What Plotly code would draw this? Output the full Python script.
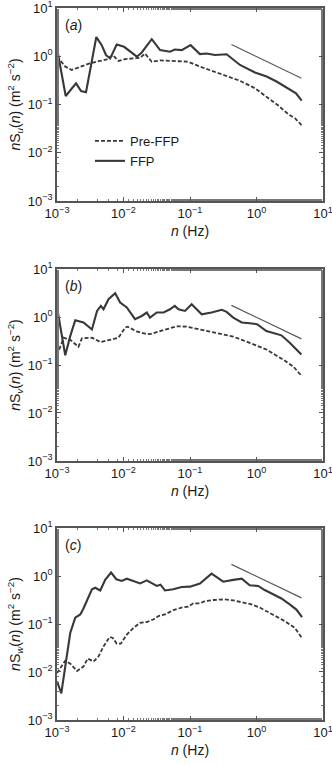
import plotly.graph_objects as go

# ---------------- data ----------------
n_a_ffp = [0.001, 0.00135, 0.00193, 0.0023, 0.00273, 0.0039, 0.0047, 0.00545, 0.0063, 0.0079, 0.0102,
           0.0159, 0.0188, 0.0266, 0.0355, 0.05, 0.059, 0.075, 0.102, 0.141, 0.178, 0.238, 0.355, 0.565,
           0.95, 1.42, 2.0, 2.84, 3.93, 4.78]
S_a_ffp = [1.45, 0.15, 0.275, 0.19, 0.18, 2.5, 1.7, 1.06, 0.9, 1.75, 1.57,
           0.98, 1.2, 2.26, 1.34, 1.24, 1.38, 1.34, 1.7, 1.11, 1.14, 1.06, 1.1, 0.66,
           0.46, 0.38, 0.30, 0.224, 0.17, 0.12]
n_a_pre = [0.001, 0.00133, 0.00166, 0.0022, 0.0031, 0.0044, 0.0056, 0.0069, 0.0084, 0.0105, 0.014,
           0.0178, 0.021, 0.0266, 0.0355, 0.055, 0.094, 0.141, 0.224, 0.355, 0.565, 0.95, 1.42,
           2.13, 3.0, 3.79, 4.78]
S_a_pre = [1.0, 0.61, 0.52, 0.59, 0.71, 0.8, 0.86, 1.06, 0.8, 0.87, 0.9,
           0.93, 1.14, 0.77, 0.82, 0.8, 0.77, 0.61, 0.49, 0.38, 0.31, 0.217, 0.146,
           0.095, 0.063, 0.052, 0.037]

n_b_ffp = [0.001, 0.00133, 0.00158, 0.00188, 0.0025, 0.00335, 0.004, 0.00457, 0.005, 0.00595, 0.0075,
           0.0089, 0.0112, 0.0149, 0.0188, 0.0224, 0.025, 0.0316, 0.04, 0.05, 0.059, 0.067, 0.084,
           0.106, 0.15, 0.211, 0.3, 0.355, 0.447, 0.6, 0.79, 1.02, 1.41, 1.78, 2.37, 3.16, 3.98, 4.73]
S_b_ffp = [1.58, 0.16, 0.40, 0.855, 0.77, 0.55, 1.34, 1.7, 1.45, 2.35, 3.14,
           2.0, 1.58, 0.9, 1.05, 1.24, 0.97, 1.24, 1.24, 1.45, 1.7, 1.45, 1.34,
           1.85, 1.14, 1.24, 1.41, 1.28, 0.97, 0.77, 0.74, 0.71, 0.51, 0.46, 0.415, 0.29, 0.21, 0.166]
n_b_pre = [0.001, 0.00126, 0.0016, 0.0021, 0.00237, 0.00335, 0.0045, 0.0063, 0.0084, 0.0106, 0.0115,
           0.0158, 0.021, 0.025, 0.0447, 0.063, 0.089, 0.141, 0.25, 0.447, 0.79, 1.41, 2.5, 3.55, 4.73]
S_b_pre = [0.16, 0.37, 0.33, 0.24, 0.36, 0.37, 0.30, 0.34, 0.37, 0.60, 0.63,
           0.50, 0.45, 0.44, 0.555, 0.64, 0.63, 0.555, 0.47, 0.39, 0.29, 0.21, 0.13, 0.094, 0.06]

n_c_ffp = [0.001, 0.00116, 0.00135, 0.00158, 0.00188, 0.00224, 0.0025, 0.00298, 0.00335, 0.00376,
           0.00447, 0.0053, 0.0065, 0.0078, 0.0094, 0.0112, 0.0141, 0.0178, 0.0224, 0.0266, 0.0316,
           0.036, 0.042, 0.056, 0.075, 0.1, 0.141, 0.211, 0.316, 0.447, 0.6, 0.79, 1.06, 1.33, 1.78,
           2.37, 3.16, 3.98, 4.84]
S_c_ffp = [0.0064, 0.0036, 0.015, 0.065, 0.135, 0.158, 0.21, 0.38, 0.53, 0.57,
           0.50, 0.83, 1.18, 0.855, 0.79, 0.88, 0.78, 0.70, 0.81, 0.70, 0.62,
           0.66, 0.50, 0.53, 0.59, 0.60, 0.70, 1.12, 0.76, 0.83, 0.88, 0.64, 0.62, 0.51, 0.42,
           0.34, 0.257, 0.20, 0.139]
n_c_pre = [0.001, 0.00133, 0.0016, 0.002, 0.0025, 0.0029, 0.00355, 0.0042, 0.005, 0.0062, 0.0069,
           0.0079, 0.0091, 0.0112, 0.0141, 0.0178, 0.0224, 0.028, 0.0335, 0.042, 0.056, 0.075,
           0.094, 0.112, 0.141, 0.168, 0.224, 0.335, 0.447, 0.6, 0.84, 1.12, 1.5, 2.0, 2.66, 3.76, 4.84]
S_c_pre = [0.0095, 0.0172, 0.0147, 0.0105, 0.013, 0.019, 0.0166, 0.021, 0.034, 0.054, 0.051,
           0.039, 0.039, 0.06, 0.083, 0.106, 0.11, 0.124, 0.146, 0.158, 0.195, 0.22,
           0.23, 0.27, 0.27, 0.30, 0.316, 0.326, 0.31, 0.286, 0.257, 0.22, 0.178, 0.146, 0.115, 0.083, 0.051]

ref_n = [0.42, 4.75]
ref_S = [1.75, 0.35]

tick_vals = [0.001, 0.01, 0.1, 1, 10]
tick_text = ["10<sup>−3</sup>", "10<sup>−2</sup>", "10<sup>−1</sup>", "10<sup>0</sup>", "10<sup>1</sup>"]

panel_labels = ["(<i>a</i>)", "(<i>b</i>)", "(<i>c</i>)"]
comp = ["u", "v", "w"]

# ---------------- figure ----------------
W, H = 332, 765
ML, MR, MT, MB = 57, 9, 8, 45
ph = H - MT - MB


def py2paper(py):
    return (H - MB - py) / ph


panels_px = [(8, 201), (269, 461), (528, 720)]

FONT = "Liberation Sans, Arial, sans-serif"
LINE = "#383838"
AX = "#555555"
TXT = "#1a1a1a"
RNG = [-3.0003, 1.0003]

fig = go.Figure()
datasets = [
    (n_a_ffp, S_a_ffp, n_a_pre, S_a_pre),
    (n_b_ffp, S_b_ffp, n_b_pre, S_b_pre),
    (n_c_ffp, S_c_ffp, n_c_pre, S_c_pre),
]

for i, (nf, sf, npre, spre) in enumerate(datasets):
    sx = "" if i == 0 else str(i + 1)
    xa, ya = "x" + sx, "y" + sx
    fig.add_trace(go.Scatter(x=npre, y=spre, mode="lines", name="Pre-FFP",
                             line=dict(color=LINE, width=1.8, dash="4px,2px"),
                             showlegend=(i == 0), xaxis=xa, yaxis=ya))
    fig.add_trace(go.Scatter(x=nf, y=sf, mode="lines", name="FFP",
                             line=dict(color=LINE, width=2.1),
                             showlegend=(i == 0), xaxis=xa, yaxis=ya))
    fig.add_trace(go.Scatter(x=ref_n, y=ref_S, mode="lines", showlegend=False,
                             line=dict(color="#5a5a5a", width=1.2), xaxis=xa, yaxis=ya))

    top, bot = panels_px[i]
    axis_common = dict(type="log", showgrid=False, zeroline=False, showline=True, automargin=False,
                       linecolor=AX, linewidth=1.5, mirror="allticks", ticks="inside",
                       ticklen=4, tickwidth=1, tickcolor=AX, ticklabeloverflow="allow",
                       minor=dict(ticks="inside", ticklen=2, tickcolor="#777777", showgrid=False),
                       tickvals=tick_vals, ticktext=tick_text, range=RNG,
                       tickfont=dict(family=FONT, size=13, color=TXT))
    fig.update_layout(**{
        "xaxis" + sx: dict(axis_common, domain=[0, 1], anchor=ya,
                           title=dict(text="<i>n</i> (Hz)", font=dict(family=FONT, size=14, color=TXT),
                                      standoff=6)),
        "yaxis" + sx: dict(axis_common,
                           domain=[py2paper(bot), py2paper(top)], anchor=xa,
                           title=dict(text="<i>n</i>S<sub><i>%s</i></sub>(<i>n</i>) (m<sup>2</sup> s<sup>−2</sup>)" % comp[i],
                                      font=dict(family=FONT, size=14, color=TXT), standoff=4)),
    })
    fig.add_annotation(text=panel_labels[i], xref=xa + " domain", yref=ya + " domain",
                       x=0.022, y=1 - 17 / (bot - top), xanchor="left", yanchor="middle",
                       showarrow=False, font=dict(family=FONT, size=14, color=TXT))

fig.update_layout(
    width=W, height=H,
    margin=dict(l=ML, r=MR, t=MT, b=MB),
    paper_bgcolor="white", plot_bgcolor="white",
    legend=dict(x=0.124, y=py2paper(126), xanchor="left", yanchor="top",
                bgcolor="rgba(0,0,0,0)", font=dict(family=FONT, size=13, color=TXT),
                tracegroupgap=0, itemwidth=30),
)

fig.write_html("out.html", config={"displayModeBar": False},
               post_script="document.body.style.margin='0px';")
